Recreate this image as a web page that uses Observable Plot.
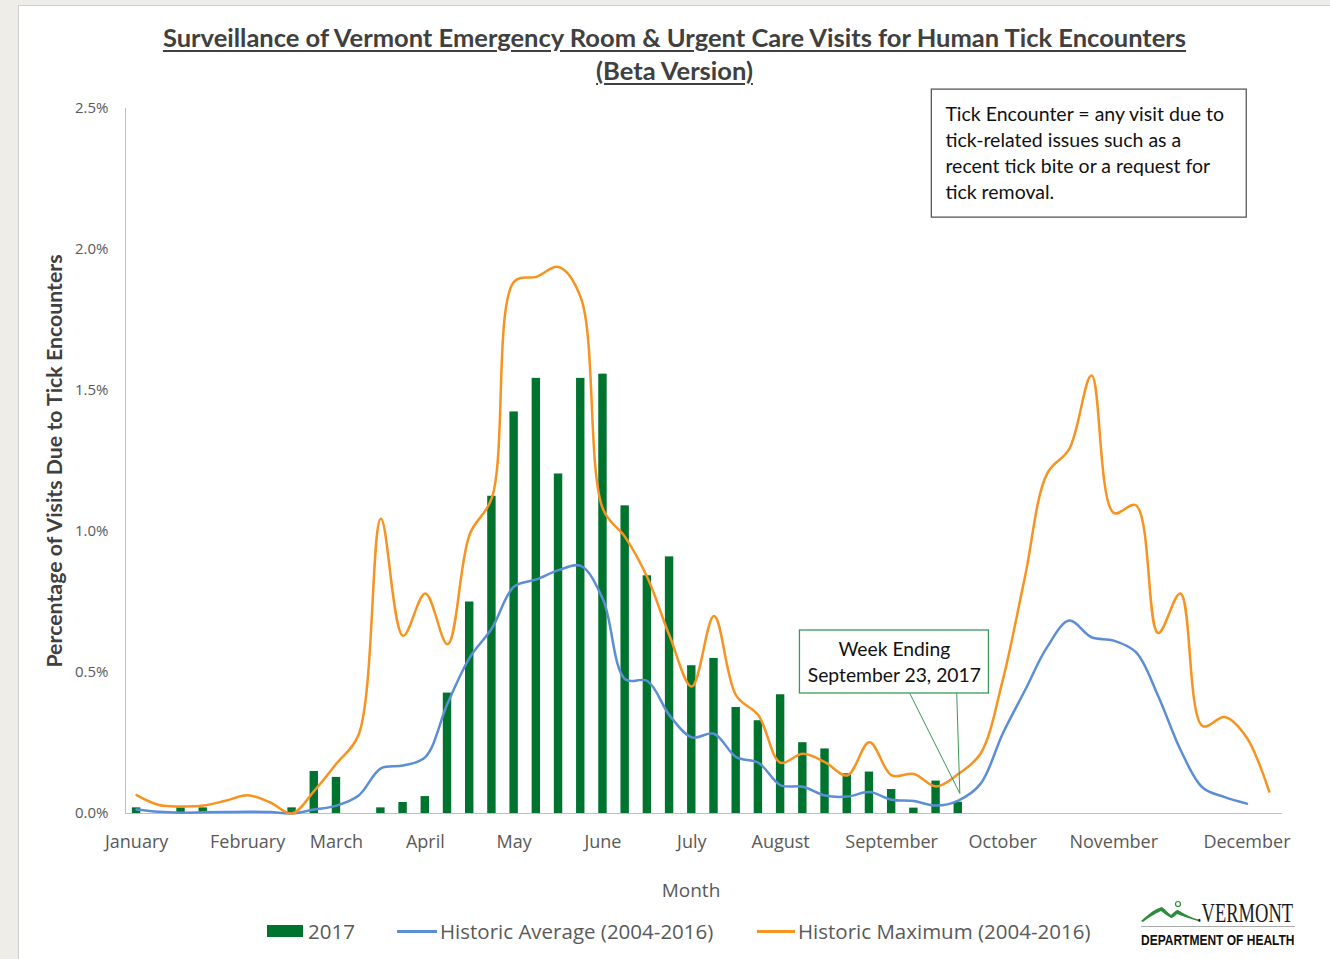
<!DOCTYPE html>
<html>
<head>
<meta charset="utf-8">
<script src="https://cdn.jsdelivr.net/npm/d3@7"></script>
<script src="https://cdn.jsdelivr.net/npm/@observablehq/plot@0.6"></script>
<style>
  html, body { margin: 0; padding: 0; }
  body { width: 1330px; height: 959px; background: #efede8; overflow: hidden; position: relative; }
  #panel { position: absolute; left: 18px; top: 5px; width: 1312px; height: 954px; box-sizing: border-box;
           background: #fff; border-left: 1px solid #cfcfcf; border-top: 1px solid #cfcfcf; }
  #title { height: 81px; box-sizing: border-box; padding-top: 15px; text-align: center;
           font-family: Lato, "Open Sans", sans-serif; font-weight: bold; font-size: 25.5px; line-height: 33px;
           color: #404040; text-decoration: underline; text-underline-offset: 3px; }
  #chart svg { display: block; }
  #legend { position: relative; height: 28px; font-family: "Open Sans", sans-serif; font-size: 20.5px; color: #595959; }
  #legend span { position: absolute; top: 0; line-height: 28px; white-space: nowrap; }
  #legend i { position: absolute; display: block; }
  #logo { position: absolute; left: 1121px; top: 892px; overflow: visible; }
</style>
</head>
<body>
<div id="panel">
  <div id="title">Surveillance of Vermont Emergency Room &amp; Urgent Care Visits for Human Tick Encounters<br>(Beta Version)</div>
  <div id="chart"></div>
  <div id="legend"></div>
  <svg id="logo" width="170" height="56" viewBox="0 0 170 56">
    <path d="M1,23 C8,17 14,11 22,9 C26,12 28,15 31,17 C34,14 36,12 38,12 C44,16 52,20 60,22 L58,23 C50,21 43,18 37,16 C35,18 33,20 31,20 C27,18 24,15 21,13 C14,16 8,20 3,24 Z" fill="#2e8b3e"/>
    <circle cx="38" cy="6" r="2.5" fill="none" stroke="#2e8b3e" stroke-width="1.2"/>
    <text transform="translate(57,24) scale(1,1.45)" font-family="Liberation Serif" font-size="18.5" fill="#1a1a1a">.VERMONT</text>
    <line x1="1" x2="155" y1="28.5" y2="28.5" stroke="#aaaaaa"/>
    <text transform="translate(1,47) scale(1,1.25)" font-family="Liberation Sans" font-weight="bold" font-size="12" fill="#111">DEPARTMENT OF HEALTH</text>
  </svg>
</div>
<script>
// ---------- data ----------
const monthWeeks  = [1, 6, 10, 14, 18, 22, 26, 30, 35, 40, 45, 51];
const monthLabels = ["January","February","March","April","May","June","July","August","September","October","November","December"];
const yTicks = [0, 0.5, 1.0, 1.5, 2.0, 2.5];

// 2017 weekly percentage (weeks 1..38, week ending Sept 23)
const bars2017 = [0.02, 0, 0.02, 0.02, 0, 0, 0, 0.02, 0.149, 0.128,
                  0, 0.02, 0.039, 0.06, 0.427, 0.75, 1.125, 1.424, 1.543, 1.204,
                  1.543, 1.558, 1.091, 0.843, 0.91, 0.524, 0.55, 0.376, 0.329, 0.421,
                  0.251, 0.229, 0.141, 0.147, 0.085, 0.019, 0.115, 0.04];

// Historic average 2004-2016 (weeks 1..51)
const histAvg = [0.014, 0.006, 0.003, 0.004, 0.005, 0.006, 0.005, 0.0, 0.014, 0.028,
                 0.064, 0.16, 0.17, 0.2, 0.39, 0.553, 0.657, 0.805, 0.83, 0.863,
                 0.878, 0.76, 0.476, 0.47, 0.348, 0.27, 0.283, 0.2, 0.18, 0.1,
                 0.095, 0.064, 0.06, 0.076, 0.049, 0.044, 0.028, 0.046, 0.105, 0.283,
                 0.436, 0.59, 0.684, 0.625, 0.613, 0.572, 0.417, 0.227, 0.092, 0.058,
                 0.035];

// Historic maximum 2004-2016 (weeks 1..52)
const histMax = [0.065, 0.03, 0.025, 0.028, 0.045, 0.065, 0.04, 0.0, 0.08, 0.177,
                 0.28, 1.045, 0.63, 0.78, 0.6, 0.99, 1.12, 1.886, 1.903, 1.938,
                 1.83, 1.08, 0.98, 0.837, 0.63, 0.45, 0.7, 0.418, 0.348, 0.18,
                 0.212, 0.182, 0.135, 0.253, 0.135, 0.14, 0.096, 0.14, 0.212, 0.472,
                 0.838, 1.205, 1.293, 1.553, 1.066, 1.093, 0.64, 0.78, 0.31, 0.342,
                 0.268, 0.078];

const seriesNames = ["2017", "Historic Average (2004-2016)", "Historic Maximum (2004-2016)"];
const seriesColors = ["#00732f", "#5b8ed5", "#f79320"];

// annotations (data units: week, percent)
const noteText = "Tick Encounter = any visit due to\ntick-related issues such as a\nrecent tick bite or a request for\ntick removal.";
const noteBox = {x1: 36.81, x2: 50.99, y1: 2.113, y2: 2.567, tx: 37.42, ty: 2.348};
const calloutText = "Week Ending\nSeptember 23, 2017";
const calloutBox = {x1: 30.87, x2: 39.38, y1: 0.4255, y2: 0.649, tx: 35.12, ty: 0.541};
const calloutPointer = [{week: 35.82, v: 0.4255}, {week: 38.07, v: 0.071}, {week: 37.93, v: 0.4255}];

// ---------- tables ----------
const barData = bars2017.map((v, i) => ({week: i + 1, value: v}));
const avgData = histAvg.map((v, i) => ({week: i + 1, value: v}));
const maxData = histMax.map((v, i) => ({week: i + 1, value: v}));

const chart = Plot.plot({
  width: 1311,
  height: 830,
  marginLeft: 106,
  marginRight: 48,
  marginTop: 21,
  marginBottom: 104,
  x: {domain: [0.5, 52.6]},
  y: {domain: [0, 2.5]},
  style: {fontFamily: "'Open Sans', sans-serif", color: "#595959", background: "transparent", overflow: "visible"},
  marks: [
    Plot.ruleX([0.5], {stroke: "#bfbfbf", strokeWidth: 1}),
    Plot.rectY(barData, {x1: d => d.week - 0.5, x2: d => d.week + 0.5, y: "value",
                         insetLeft: 6.9, insetRight: 6.9, fill: seriesColors[0]}),
    Plot.ruleY([0], {stroke: "#bfbfbf", strokeWidth: 1.2}),
    Plot.line(avgData, {x: "week", y: "value", stroke: seriesColors[1], strokeWidth: 2.5, curve: "catmull-rom"}),
    Plot.line(maxData, {x: "week", y: "value", stroke: seriesColors[2], strokeWidth: 2.5, curve: "catmull-rom"}),
    Plot.axisY({ticks: yTicks, tickFormat: d => d.toFixed(1) + "%", tickSize: 0, tickPadding: 17,
                fontSize: 15, label: null}),
    Plot.axisX({ticks: monthWeeks, tickFormat: d => monthLabels[monthWeeks.indexOf(d)], tickSize: 0,
                tickPadding: 22, fontSize: 18, label: null}),
    Plot.text(["Percentage of Visits Due to Tick Encounters"], {frameAnchor: "left", textAnchor: "middle",
                rotate: -90, dx: -70, fontSize: 21.3, fontWeight: "bold", fill: "#404040", fontFamily: "Lato, sans-serif"}),
    Plot.text(["Month"], {frameAnchor: "bottom", dx: -13, dy: 83, fontSize: 19, fill: "#595959"}),
    // definition box
    Plot.rect([noteBox], {x1: "x1", x2: "x2", y1: "y1", y2: "y2", fill: "white", stroke: "#595959", strokeWidth: 1.3}),
    Plot.text([noteBox], {x: "tx", y: "ty", text: () => noteText, textAnchor: "start", lineAnchor: "middle",
                fontSize: 19.5, lineHeight: 26 / 19.5, fill: "#111", fontFamily: "Lato, sans-serif"}),
    // callout
    Plot.line(calloutPointer, {x: "week", y: "v", stroke: "#3a9a58", strokeWidth: 1}),
    Plot.rect([calloutBox], {x1: "x1", x2: "x2", y1: "y1", y2: "y2", fill: "white", stroke: "#3a9a58", strokeWidth: 1.3}),
    Plot.text([calloutBox], {x: "tx", y: "ty", text: () => calloutText, lineAnchor: "middle",
                fontSize: 19.3, lineHeight: 26 / 19.3, fill: "#111", fontFamily: "Lato, sans-serif"})
  ]
});
document.getElementById("chart").appendChild(chart);

// ---------- legend ----------
const legend = document.getElementById("legend");
const legendItems = [
  {swatch: {left: 248, width: 36, height: 12}, textLeft: 289},
  {swatch: {left: 378, width: 40, height: 3}, textLeft: 421},
  {swatch: {left: 738, width: 38, height: 3}, textLeft: 779}
];
legendItems.forEach((it, i) => {
  const sw = document.createElement("i");
  sw.style.left = it.swatch.left + "px";
  sw.style.width = it.swatch.width + "px";
  sw.style.height = it.swatch.height + "px";
  sw.style.top = (14 - it.swatch.height / 2) + "px";
  sw.style.background = seriesColors[i];
  legend.appendChild(sw);
  const tx = document.createElement("span");
  tx.style.left = it.textLeft + "px";
  tx.textContent = seriesNames[i];
  legend.appendChild(tx);
});
</script>
</body>
</html>
